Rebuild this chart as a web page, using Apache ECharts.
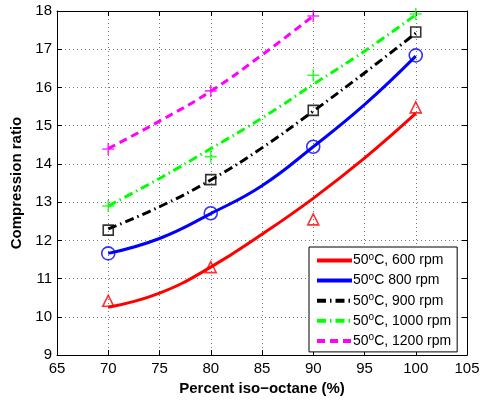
<!DOCTYPE html>
<html><head><meta charset="utf-8">
<script src="https://cdn.jsdelivr.net/npm/echarts@6/dist/echarts.min.js"></script>
<style>html,body{margin:0;padding:0;background:#fff}#c{width:487px;height:401px}</style>
</head><body><div id="c"></div><script>
// fitted curves
const xFit = [70, 75, 80, 85, 90, 95, 100];
const fit600 = [10.25, 10.62, 11.30, 12.16, 13.10, 14.15, 15.32];
const fit800 = [11.66, 12.05, 12.70, 13.43, 14.45, 15.55, 16.82];
const fit900 = [12.30, 12.88, 13.58, 14.42, 15.38, 16.38, 17.42];
const fit1000 = [12.90, 13.62, 14.40, 15.20, 16.08, 16.95, 17.90];
const xFit1200 = [70, 75, 80, 85, 90];
const fit1200 = [14.40, 15.12, 15.90, 16.85, 17.87];
// measured points
const xMeas = [70, 80, 90, 100];
const meas600 = [10.42, 11.30, 12.55, 15.48];
const meas800 = [11.66, 12.71, 14.45, 16.84];
const meas900 = [12.27, 13.59, 15.40, 17.45];
const meas1000 = [12.90, 14.19, 16.32, 17.92];
const xMeas1200 = [70, 80, 90];
const meas1200 = [14.39, 15.91, 17.87];
const names = ['50°C, 600 rpm', '50°C 800 rpm', '50°C, 900 rpm', '50°C, 1000 rpm', '50°C, 1200 rpm'];

const zip = (xs, ys) => xs.map((x, i) => [x, ys[i]]);
const PLUS = 'path://M0,5L10,5M5,0L5,10';
const font = 'Liberation Sans, Arial, Helvetica, sans-serif';

function fitLine(name, xs, ys, color, type) {
  return { name, type: 'line', data: zip(xs, ys), smooth: 0.45, symbol: 'none',
    lineStyle: { color, width: 3, type }, itemStyle: { color }, z: 3 };
}
function marks(xs, ys, color, symbol, size) {
  return { type: 'scatter', data: zip(xs, ys), symbol, symbolSize: size,
    itemStyle: { color: 'rgba(0,0,0,0)', borderColor: color, borderWidth: 1.6 }, z: 4 };
}

const chart = echarts.init(document.getElementById('c'));
const axisCommon = {
  axisLine: { show: true, lineStyle: { color: '#000', width: 1 } },
  axisTick: { show: true, inside: true, length: 5, lineStyle: { color: '#000' } },
};
chart.setOption({
  animation: false,
  textStyle: { fontFamily: font },
  grid: { left: 57, right: 20, top: 11, bottom: 42 },
  xAxis: [
    Object.assign({ type: 'value', min: 65, max: 105, interval: 5, position: 'bottom',
      name: 'Percent iso\u2212octane (%)', nameLocation: 'middle', nameGap: 23,
      nameTextStyle: { fontWeight: 'bold', fontSize: 15, color: '#000', fontFamily: font },
      axisLabel: { fontSize: 15, color: '#000', margin: 6, fontFamily: font },
      splitLine: { show: true, lineStyle: { color: '#777', type: [1, 3], width: 1 } } }, axisCommon),
    Object.assign({ type: 'value', min: 65, max: 105, interval: 5, position: 'top',
      axisLabel: { show: false }, splitLine: { show: false } }, axisCommon)
  ],
  yAxis: [
    Object.assign({ type: 'value', min: 9, max: 18, interval: 1, position: 'left',
      name: 'Compression ratio', nameLocation: 'middle', nameGap: 27,
      nameTextStyle: { fontWeight: 'bold', fontSize: 15, color: '#000', fontFamily: font },
      axisLabel: { fontSize: 15, color: '#000', margin: 5, fontFamily: font },
      splitLine: { show: true, lineStyle: { color: '#777', type: [1, 3], width: 1 } } }, axisCommon),
    Object.assign({ type: 'value', min: 9, max: 18, interval: 1, position: 'right',
      axisLabel: { show: false }, splitLine: { show: false } }, axisCommon)
  ],
  legend: {
    data: names, orient: 'vertical', left: 309, top: 247,
    backgroundColor: '#fff', borderColor: '#000', borderWidth: 1, borderRadius: 0,
    padding: [5, 6, 4, 6], itemWidth: 35, itemHeight: 14, itemGap: 4.6,
    itemStyle: { opacity: 0 },
    lineStyle: { width: 4 },
    formatter: n => n.replace('°', '{s|o}'),
    textStyle: { fontSize: 14, color: '#000', fontFamily: font, padding: [0, 0, 0, -4],
      rich: { s: { fontSize: 10, padding: [0, 0, 7, 0], fontFamily: font, color: '#000' } } }
  },
  series: [
    fitLine(names[0], xFit, fit600, '#ff0000', 'solid'),
    fitLine(names[1], xFit, fit800, '#0000ff', 'solid'),
    fitLine(names[2], xFit, fit900, '#000000', [9, 4, 1.5, 4]),
    fitLine(names[3], xFit, fit1000, '#00ff00', [9, 4, 1.5, 4]),
    fitLine(names[4], xFit1200, fit1200, '#ff00ff', [8, 5]),
    marks(xMeas, meas600, '#ff0000', 'triangle', 11),
    marks(xMeas, meas800, '#0000ff', 'circle', 13),
    marks(xMeas, meas900, '#000000', 'rect', 10),
    marks(xMeas, meas1000, '#00ff00', PLUS, 12),
    marks(xMeas1200, meas1200, '#ff00ff', PLUS, 12)
  ]
});
</script></body></html>
